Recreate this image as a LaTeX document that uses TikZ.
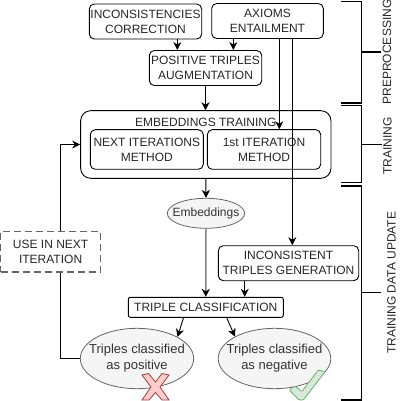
\documentclass[tikz,border=0pt]{standalone}
\usepackage{fontspec}
\setmainfont{Liberation Sans}
\usetikzlibrary{arrows.meta,shapes.geometric}
\definecolor{softgray}{HTML}{F5F5F5}
\definecolor{edgegray}{HTML}{666666}
\definecolor{textgray}{HTML}{333333}
\begin{document}
\begin{tikzpicture}
[
    x=1pt, y=-1pt,
    every node/.style={font=\fontsize{12}{15}\selectfont, align=center, inner sep=0pt},
    stepbox/.style={draw, rounded corners=5pt, line width=0.9pt, text=black!85},
    blob/.style={draw=edgegray, fill=softgray, text=textgray, ellipse, line width=0.8pt},
    flow/.style={draw, line width=0.9pt, -{Stealth[length=8pt,width=8pt,inset=2.5pt]}},
    phase/.style={draw, line width=1.5pt},
    phasetick/.style={draw, line width=1.2pt},
    phaselabel/.style={rotate=90, text=black!85}
]
    \useasboundingbox (0, 0) rectangle (407, 401);

    % preprocessing
    \node [stepbox, minimum width=112.4pt, minimum height=35pt] (correction) at (145.5, 21.5) {INCONSISTENCIES\\CORRECTION};
    \node [stepbox, minimum width=111.6pt, minimum height=35pt] (entailment) at (267.5, 21) {AXIOMS\\ENTAILMENT};
    \node [stepbox, minimum width=112.4pt, minimum height=35pt] (augmentation) at (205.5, 68) {POSITIVE TRIPLES\\AUGMENTATION};

    % training
    \node [stepbox, rounded corners=10pt, minimum width=250.3pt, minimum height=67.6pt] (training) at (205.8, 144.5) {};
    \node [text=black!85] (trainingtitle) at (205.8, 122.5) {EMBEDDINGS TRAINING};
    \node [stepbox, minimum width=113pt, minimum height=39.6pt] (nextmethod) at (146.8, 149.5) {NEXT ITERATIONS\\METHOD};
    \node [stepbox, minimum width=113.4pt, minimum height=39.6pt] (firstmethod) at (264, 149.5) {1st ITERATION\\METHOD};

    % data update
    \node [blob, inner xsep=-6pt, minimum width=75.4pt, minimum height=30pt] (embeddings) at (206, 213.3) {Embeddings};
    \node [stepbox, minimum width=140.4pt, minimum height=35pt] (inconsistent) at (288.5, 263.2) {INCONSISTENT\\TRIPLES GENERATION};
    \node [stepbox, rounded corners=2pt, minimum width=155pt, minimum height=20pt] (classification) at (205.8, 307.3) {TRIPLE CLASSIFICATION};
    \node [draw=edgegray, dash pattern=on 7pt off 4pt, line width=1.2pt, text=black!85, minimum width=100.2pt, minimum height=40.3pt] (nextuse) at (50.6, 251.8) {USE IN NEXT\\ITERATION};
    \node [blob, font=\fontsize{13}{16}\selectfont, inner xsep=-8pt, minimum width=113.4pt, minimum height=60.4pt] (positive) at (137, 358.5) {Triples classified\\as positive};
    \node [blob, font=\fontsize{13}{16}\selectfont, inner xsep=-8pt, minimum width=112.4pt, minimum height=60.4pt] (negative) at (274.5, 358.5) {Triples classified\\as negative};

    % marks
    \filldraw [fill=red!20!white, draw=red!50!black!75, line width=0.8pt, shift={(155.5, 387)}]
        (-13.5, -12) -- (-7, -13.5) -- (0, -5) -- (6.5, -13.5) -- (13.5, -12) -- (4.5, 0) -- (13.5, 13)
        -- (6.5, 13) -- (0, 5.5) -- (-6.5, 13) -- (-13.5, 13) -- (-4.5, 0) -- cycle;
    \filldraw [fill=green!40!black!15, draw=green!50!black!60, line width=0.8pt, rounded corners=1pt]
        (289.3, 390) -- (295, 386) -- (301.7, 391.7) -- (318.3, 370) -- (325, 371.7) -- (303.3, 400) -- (299, 400) -- cycle;

    % connectors
    \draw [flow] ([xshift=31.8pt]correction.south) -- ([xshift=-28.2pt]augmentation.north);
    \draw [flow] ([xshift=-34.2pt]entailment.south) -- ([xshift=27.8pt]augmentation.north);
    \draw [flow] (augmentation.south) -- (augmentation.south |- training.north);
    \draw [flow] ([xshift=11.8pt]entailment.south) -- ([xshift=15.3pt]firstmethod.north);
    \draw [flow] ([xshift=24.8pt]entailment.south) -- ([xshift=3.8pt]inconsistent.north);
    \draw [flow] (training.south) -- (embeddings.north);
    \draw [flow, draw=black!50, line width=1.5pt, -{Stealth[length=8pt,width=8pt,inset=2.5pt,black]}] (embeddings.south) -- (classification.north);
    \draw [flow] ([xshift=-43.8pt]inconsistent.south) -- ([xshift=38.9pt]classification.north);
    \draw [flow] ([xshift=-22.3pt]classification.south) -- (positive.28);
    \draw [flow] ([xshift=20.9pt]classification.south) -- (negative.151);
    \draw [line width=0.9pt] (positive.west) -| ([xshift=10.1pt]nextuse.south);
    \draw [flow] ([xshift=10.1pt]nextuse.north) |- (training.west);

    % phases
    \coordinate (preprocessingtip) at (380.7, 52);
    \coordinate (trainingtip) at (381.5, 144.3);
    \coordinate (updatetip) at (381, 292.7);
    \draw [phase] (341.3, 1.7) -- (361.5, 1.7) -- (361.5, 103.2) -- (341.3, 103.2);
    \draw [phasetick] (361.5, 52) -- (preprocessingtip);
    \draw [phase, line width=1pt] (341.3, 105.8) -- (361.5, 105.8) -- (361.5, 182.6) -- (341.3, 182.6);
    \draw [phasetick] (361.5, 144.3) -- (trainingtip);
    \draw [phase] (341.3, 186.2) -- (361.5, 186.2) -- (361.5, 400) -- (341.3, 400);
    \draw [phasetick] (361.5, 292.7) -- (updatetip);
    \node [phaselabel] (preprocessinglabel) at (387, 52) {PREPROCESSING};
    \node [phaselabel] (trainingphaselabel) at (387.5, 146) {TRAINING};
    \node [phaselabel] (updatelabel) at (391.5, 282.7) {TRAINING DATA UPDATE};
\end{tikzpicture}
\end{document}
